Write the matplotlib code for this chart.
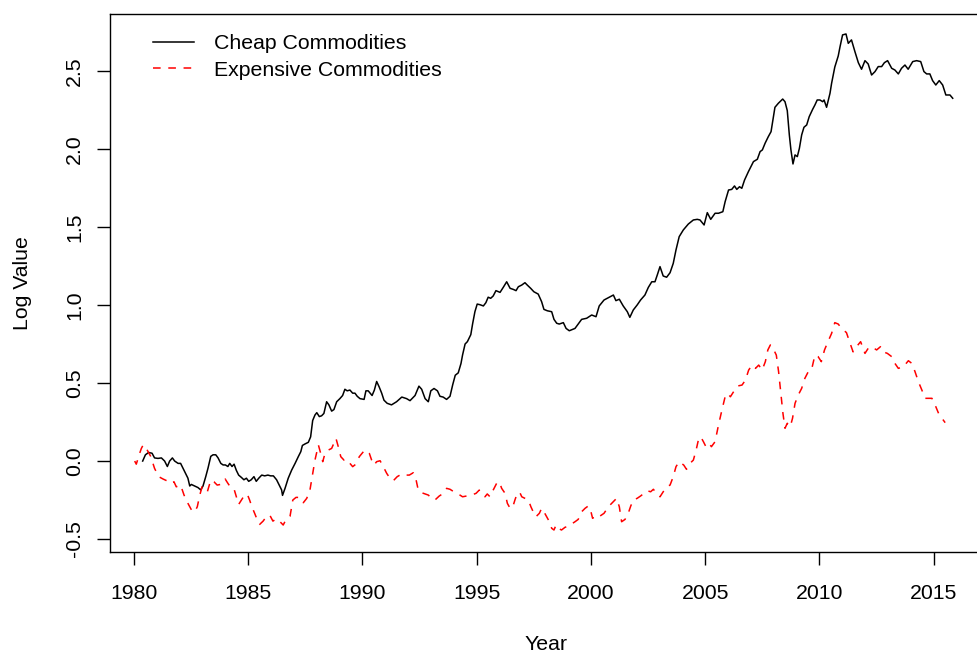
import matplotlib
matplotlib.use("Agg")
import matplotlib.pyplot as plt

plt.rcParams['font.family'] = ['Liberation Sans', 'DejaVu Sans']

# Cheap Commodities (log value)
cheap_years = [
    1980.38, 1980.50, 1980.64, 1980.79, 1980.90, 1981.05, 1981.20, 1981.34, 1981.46, 1981.56,
    1981.68, 1981.78, 1981.93, 1982.04, 1982.14, 1982.29, 1982.36, 1982.44, 1982.51, 1982.66,
    1982.80, 1982.92, 1983.02, 1983.14, 1983.24, 1983.36, 1983.46, 1983.58, 1983.68, 1983.80,
    1983.90, 1984.00, 1984.11, 1984.19, 1984.29, 1984.38, 1984.48, 1984.58, 1984.70, 1984.81,
    1984.92, 1985.02, 1985.13, 1985.25, 1985.35, 1985.46, 1985.59, 1985.72, 1985.86, 1985.98,
    1986.10, 1986.24, 1986.36, 1986.46, 1986.50, 1986.61, 1986.75, 1986.90, 1987.05, 1987.19,
    1987.30, 1987.37, 1987.49, 1987.63, 1987.73, 1987.82, 1987.92, 1988.00, 1988.11, 1988.21,
    1988.31, 1988.43, 1988.53, 1988.65, 1988.75, 1988.87, 1989.01, 1989.13, 1989.23, 1989.33,
    1989.45, 1989.57, 1989.67, 1989.77, 1989.89, 1990.07, 1990.15, 1990.25, 1990.42, 1990.52,
    1990.62, 1990.73, 1990.84, 1990.94, 1991.08, 1991.27, 1991.49, 1991.72, 1991.93, 1992.08,
    1992.30, 1992.47, 1992.59, 1992.74, 1992.88, 1992.99, 1993.13, 1993.28, 1993.39, 1993.53,
    1993.68, 1993.83, 1993.95, 1994.06, 1994.19, 1994.31, 1994.38, 1994.49, 1994.59, 1994.74,
    1994.82, 1994.92, 1995.02, 1995.14, 1995.29, 1995.40, 1995.50, 1995.61, 1995.72, 1995.84,
    1996.02, 1996.16, 1996.31, 1996.46, 1996.60, 1996.72, 1996.82, 1996.97, 1997.11, 1997.21,
    1997.36, 1997.50, 1997.69, 1997.84, 1997.94, 1998.09, 1998.28, 1998.38, 1998.50, 1998.61,
    1998.79, 1998.91, 1999.05, 1999.30, 1999.59, 1999.81, 2000.03, 2000.22, 2000.36, 2000.57,
    2000.76, 2000.98, 2001.09, 2001.24, 2001.41, 2001.59, 2001.70, 2001.85, 2002.02, 2002.17,
    2002.36, 2002.51, 2002.66, 2002.80, 2002.90, 2003.02, 2003.16, 2003.31, 2003.46, 2003.60,
    2003.72, 2003.86, 2004.04, 2004.26, 2004.48, 2004.65, 2004.77, 2004.95, 2005.09, 2005.24,
    2005.43, 2005.58, 2005.77, 2005.87, 2006.02, 2006.16, 2006.28, 2006.38, 2006.50, 2006.60,
    2006.72, 2006.89, 2007.11, 2007.28, 2007.40, 2007.50, 2007.62, 2007.76, 2007.88, 2007.96,
    2008.05, 2008.20, 2008.39, 2008.49, 2008.59, 2008.68, 2008.75, 2008.84, 2008.93, 2009.03,
    2009.12, 2009.22, 2009.32, 2009.44, 2009.55, 2009.70, 2009.80, 2009.90, 2010.02, 2010.14,
    2010.20, 2010.31, 2010.46, 2010.53, 2010.67, 2010.82, 2010.90, 2011.01, 2011.16, 2011.26,
    2011.40, 2011.55, 2011.70, 2011.84, 2011.99, 2012.13, 2012.28, 2012.43, 2012.57, 2012.72,
    2012.84, 2012.98, 2013.16, 2013.30, 2013.45, 2013.59, 2013.74, 2013.88, 2014.08, 2014.25,
    2014.43, 2014.57, 2014.69, 2014.83, 2014.95, 2015.09, 2015.24, 2015.39, 2015.53, 2015.71,
    2015.83,
]
cheap_values = [
    0.000, 0.040, 0.055, 0.050, 0.020, 0.017, 0.020, 0.000, -0.035, 0.000,
    0.020, 0.000, -0.015, -0.015, -0.045, -0.090, -0.110, -0.160, -0.150, -0.160,
    -0.170, -0.185, -0.160, -0.100, -0.045, 0.030, 0.040, 0.040, 0.020, -0.015,
    -0.025, -0.025, -0.035, -0.015, -0.035, -0.020, -0.060, -0.090, -0.105, -0.120,
    -0.110, -0.130, -0.120, -0.100, -0.130, -0.110, -0.090, -0.095, -0.090, -0.095,
    -0.095, -0.120, -0.155, -0.185, -0.220, -0.175, -0.110, -0.058, -0.015, 0.028,
    0.060, 0.100, 0.110, 0.120, 0.155, 0.260, 0.295, 0.310, 0.285, 0.290,
    0.305, 0.380, 0.360, 0.320, 0.330, 0.380, 0.400, 0.420, 0.460, 0.450,
    0.455, 0.435, 0.435, 0.415, 0.400, 0.395, 0.450, 0.450, 0.420, 0.455,
    0.510, 0.475, 0.435, 0.390, 0.370, 0.360, 0.380, 0.410, 0.400, 0.387,
    0.420, 0.480, 0.460, 0.400, 0.380, 0.450, 0.465, 0.450, 0.415, 0.410,
    0.395, 0.415, 0.490, 0.550, 0.565, 0.625, 0.680, 0.750, 0.765, 0.810,
    0.880, 0.957, 1.006, 1.002, 0.994, 1.015, 1.050, 1.043, 1.058, 1.092,
    1.081, 1.113, 1.149, 1.107, 1.100, 1.092, 1.117, 1.128, 1.143, 1.128,
    1.107, 1.085, 1.070, 1.021, 0.972, 0.963, 0.957, 0.908, 0.883, 0.878,
    0.887, 0.850, 0.835, 0.850, 0.908, 0.915, 0.936, 0.925, 0.994, 1.032,
    1.047, 1.064, 1.028, 1.037, 0.994, 0.957, 0.921, 0.968, 1.000, 1.032,
    1.064, 1.113, 1.149, 1.149, 1.192, 1.246, 1.186, 1.178, 1.207, 1.267,
    1.353, 1.438, 1.481, 1.519, 1.545, 1.549, 1.545, 1.513, 1.592, 1.549,
    1.588, 1.588, 1.598, 1.662, 1.737, 1.741, 1.763, 1.741, 1.758, 1.748,
    1.801, 1.855, 1.919, 1.934, 1.983, 1.994, 2.037, 2.079, 2.111, 2.186,
    2.267, 2.293, 2.320, 2.303, 2.246, 2.090, 1.994, 1.904, 1.962, 1.951,
    2.004, 2.090, 2.139, 2.154, 2.207, 2.254, 2.282, 2.314, 2.314, 2.303,
    2.314, 2.267, 2.357, 2.421, 2.525, 2.596, 2.656, 2.731, 2.737, 2.677,
    2.699, 2.624, 2.553, 2.511, 2.566, 2.545, 2.474, 2.496, 2.528, 2.528,
    2.553, 2.566, 2.517, 2.506, 2.481, 2.517, 2.538, 2.511, 2.560, 2.566,
    2.560, 2.496, 2.481, 2.481, 2.438, 2.410, 2.438, 2.410, 2.346, 2.346,
    2.325,
]

# Expensive Commodities (log value)
exp_years = [
    1980.03, 1980.10, 1980.25, 1980.32, 1980.39, 1980.50, 1980.58, 1980.73, 1980.90, 1981.08,
    1981.27, 1981.46, 1981.60, 1981.75, 1981.85, 1982.04, 1982.19, 1982.36, 1982.54, 1982.66,
    1982.77, 1982.88, 1982.98, 1983.09, 1983.21, 1983.36, 1983.50, 1983.64, 1983.82, 1983.99,
    1984.11, 1984.26, 1984.38, 1984.48, 1984.58, 1984.70, 1984.84, 1984.96, 1985.06, 1985.16,
    1985.28, 1985.43, 1985.50, 1985.65, 1985.79, 1985.94, 1986.08, 1986.23, 1986.39, 1986.53,
    1986.68, 1986.83, 1986.95, 1987.09, 1987.26, 1987.41, 1987.56, 1987.70, 1987.82, 1987.92,
    1988.07, 1988.17, 1988.26, 1988.36, 1988.50, 1988.65, 1988.84, 1988.94, 1989.05, 1989.19,
    1989.31, 1989.45, 1989.57, 1989.72, 1989.86, 1990.04, 1990.18, 1990.30, 1990.40, 1990.50,
    1990.62, 1990.77, 1990.91, 1991.06, 1991.20, 1991.35, 1991.52, 1991.72, 1991.86, 1992.05,
    1992.22, 1992.34, 1992.44, 1992.59, 1992.74, 1992.88, 1993.03, 1993.17, 1993.36, 1993.54,
    1993.68, 1993.83, 1994.00, 1994.19, 1994.38, 1994.56, 1994.77, 1994.97, 1995.11, 1995.22,
    1995.36, 1995.46, 1995.58, 1995.72, 1995.87, 1995.99, 1996.09, 1996.24, 1996.34, 1996.46,
    1996.57, 1996.67, 1996.78, 1996.89, 1996.97, 1997.11, 1997.26, 1997.37, 1997.47, 1997.59,
    1997.74, 1997.84, 1997.94, 1998.06, 1998.18, 1998.28, 1998.38, 1998.47, 1998.57, 1998.71,
    1998.86, 1999.00, 1999.08, 1999.30, 1999.44, 1999.59, 1999.74, 1999.88, 1999.98, 2000.07,
    2000.25, 2000.39, 2000.57, 2000.76, 2000.98, 2001.12, 2001.24, 2001.34, 2001.49, 2001.63,
    2001.74, 2001.85, 2002.02, 2002.17, 2002.32, 2002.46, 2002.61, 2002.73, 2002.87, 2003.02,
    2003.16, 2003.31, 2003.46, 2003.60, 2003.72, 2003.86, 2003.96, 2004.06, 2004.18, 2004.33,
    2004.48, 2004.60, 2004.70, 2004.80, 2004.92, 2005.03, 2005.17, 2005.27, 2005.43, 2005.58,
    2005.73, 2005.87, 2005.98, 2006.10, 2006.24, 2006.42, 2006.61, 2006.76, 2006.90, 2007.05,
    2007.20, 2007.34, 2007.49, 2007.63, 2007.74, 2007.85, 2007.97, 2008.11, 2008.21, 2008.31,
    2008.40, 2008.49, 2008.59, 2008.72, 2008.82, 2008.93, 2009.07, 2009.22, 2009.36, 2009.51,
    2009.65, 2009.80, 2009.94, 2010.08, 2010.22, 2010.37, 2010.53, 2010.67, 2010.82, 2010.96,
    2011.18, 2011.33, 2011.47, 2011.62, 2011.80, 2011.99, 2012.13, 2012.28, 2012.50, 2012.67,
    2012.79, 2012.97, 2013.16, 2013.30, 2013.45, 2013.67, 2013.89, 2014.04, 2014.18, 2014.33,
    2014.48, 2014.62, 2014.77, 2014.92, 2015.06, 2015.21, 2015.36, 2015.50,
]
exp_values = [
    0.000, -0.020, 0.050, 0.080, 0.100, 0.100, 0.070, 0.030, -0.047, -0.100,
    -0.115, -0.128, -0.143, -0.133, -0.165, -0.154, -0.218, -0.271, -0.320, -0.325,
    -0.293, -0.218, -0.165, -0.186, -0.197, -0.122, -0.133, -0.154, -0.149, -0.115,
    -0.143, -0.175, -0.180, -0.229, -0.278, -0.250, -0.218, -0.213, -0.250, -0.293,
    -0.335, -0.390, -0.406, -0.385, -0.357, -0.346, -0.385, -0.370, -0.389, -0.410,
    -0.367, -0.353, -0.250, -0.233, -0.233, -0.267, -0.239, -0.186, -0.079, 0.006,
    0.103, 0.049, -0.004, 0.049, 0.070, 0.081, 0.145, 0.092, 0.028, 0.006,
    0.011, -0.015, -0.036, -0.019, 0.028, 0.060, 0.070, 0.049, 0.006, -0.026,
    -0.004, 0.002, -0.036, -0.079, -0.110, -0.126, -0.100, -0.083, -0.090, -0.090,
    -0.075, -0.117, -0.186, -0.203, -0.211, -0.218, -0.239, -0.250, -0.224, -0.207,
    -0.175, -0.181, -0.197, -0.211, -0.229, -0.224, -0.218, -0.207, -0.186, -0.211,
    -0.229, -0.211, -0.229, -0.186, -0.143, -0.133, -0.175, -0.207, -0.271, -0.303,
    -0.297, -0.250, -0.203, -0.203, -0.229, -0.239, -0.250, -0.293, -0.325, -0.357,
    -0.335, -0.303, -0.325, -0.357, -0.389, -0.431, -0.442, -0.410, -0.431, -0.442,
    -0.425, -0.417, -0.410, -0.389, -0.374, -0.325, -0.303, -0.288, -0.314, -0.367,
    -0.346, -0.353, -0.335, -0.293, -0.260, -0.239, -0.293, -0.389, -0.374, -0.335,
    -0.288, -0.250, -0.239, -0.224, -0.207, -0.190, -0.197, -0.181, -0.207, -0.229,
    -0.197, -0.165, -0.154, -0.100, -0.036, -0.004, -0.015, -0.026, -0.053, -0.015,
    0.006, 0.070, 0.135, 0.156, 0.124, 0.092, 0.113, 0.092, 0.124, 0.231,
    0.327, 0.412, 0.434, 0.412, 0.444, 0.481, 0.487, 0.519, 0.583, 0.615,
    0.594, 0.615, 0.583, 0.637, 0.712, 0.744, 0.722, 0.679, 0.573, 0.434,
    0.306, 0.210, 0.242, 0.220, 0.274, 0.370, 0.423, 0.466, 0.530, 0.573,
    0.583, 0.679, 0.669, 0.637, 0.712, 0.765, 0.818, 0.887, 0.878, 0.851,
    0.823, 0.758, 0.700, 0.733, 0.765, 0.690, 0.722, 0.733, 0.712, 0.733,
    0.700, 0.690, 0.669, 0.626, 0.594, 0.604, 0.643, 0.626, 0.573, 0.508,
    0.455, 0.402, 0.402, 0.402, 0.359, 0.306, 0.274, 0.246,
]

x_ticks = [1980, 1985, 1990, 1995, 2000, 2005, 2010, 2015]
y_ticks = [-0.5, 0.0, 0.5, 1.0, 1.5, 2.0, 2.5]

fig = plt.figure(figsize=(9.77, 6.54), dpi=100)
ax = fig.add_axes([110 / 977, 1 - 551.7 / 654, 872 / 977, 537.7 / 654])

ax.plot(cheap_years, cheap_values, color="black", lw=1.1, label="Cheap Commodities")
ax.plot(exp_years, exp_values, color="red", lw=1.1, dashes=(5, 5), label="Expensive Commodities")

ax.set_xlim(1978.95, 1978.95 + 872 / 22.85)
ax.set_ylim(-0.581, 2.865)
ax.set_xticks(x_ticks)
ax.set_yticks(y_ticks)
ax.set_yticklabels([f"{v:.1f}" for v in y_ticks], rotation=90, va="center")
ax.tick_params(axis="both", labelsize=15.3, length=9.5, width=1.0)
ax.tick_params(axis="x", pad=14)
ax.tick_params(axis="y", pad=9)
ax.spines["right"].set_visible(False)
for s in ["left", "top", "bottom"]:
    ax.spines[s].set_linewidth(1.0)

ax.set_xlabel("Year", fontsize=15.3, labelpad=23)
ax.set_ylabel("Log Value", fontsize=15.3, labelpad=24)

ax.legend(loc="upper left", bbox_to_anchor=(0.0496, 0.962), frameon=False,
          fontsize=15.3, handlelength=1.92, handletextpad=0.95, labelspacing=0.35,
          borderpad=0, borderaxespad=0)

fig.savefig("out.png", dpi=100)
